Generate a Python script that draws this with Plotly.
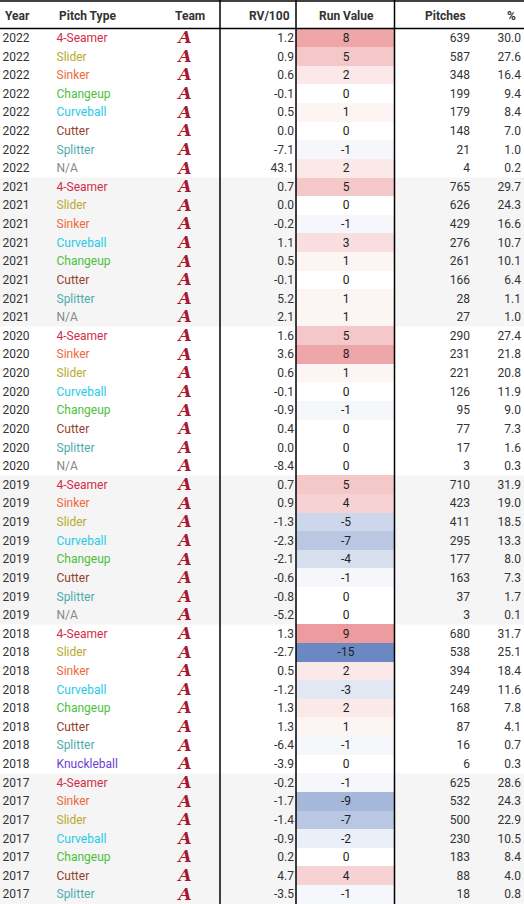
import plotly.graph_objects as go

# ---- data -----------------------------------------------------------------
years = (["2022"] * 8 + ["2021"] * 8 + ["2020"] * 8 + ["2019"] * 8
         + ["2018"] * 8 + ["2017"] * 7)

pitch_types = [
    "4-Seamer", "Slider", "Sinker", "Changeup", "Curveball", "Cutter", "Splitter", "N/A",
    "4-Seamer", "Slider", "Sinker", "Curveball", "Changeup", "Cutter", "Splitter", "N/A",
    "4-Seamer", "Sinker", "Slider", "Curveball", "Changeup", "Cutter", "Splitter", "N/A",
    "4-Seamer", "Sinker", "Slider", "Curveball", "Changeup", "Cutter", "Splitter", "N/A",
    "4-Seamer", "Slider", "Sinker", "Curveball", "Changeup", "Cutter", "Splitter", "Knuckleball",
    "4-Seamer", "Sinker", "Slider", "Curveball", "Changeup", "Cutter", "Splitter",
]

rv_per_100 = [
    1.2, 0.9, 0.6, -0.1, 0.5, 0.0, -7.1, 43.1,
    0.7, 0.0, -0.2, 1.1, 0.5, -0.1, 5.2, 2.1,
    1.6, 3.6, 0.6, -0.1, -0.9, 0.4, 0.0, -8.4,
    0.7, 0.9, -1.3, -2.3, -2.1, -0.6, -0.8, -5.2,
    1.3, -2.7, 0.5, -1.2, 1.3, 1.3, -6.4, -3.9,
    -0.2, -1.7, -1.4, -0.9, 0.2, 4.7, -3.5,
]

run_value = [
    8, 5, 2, 0, 1, 0, -1, 2,
    5, 0, -1, 3, 1, 0, 1, 1,
    5, 8, 1, 0, -1, 0, 0, 0,
    5, 4, -5, -7, -4, -1, 0, 0,
    9, -15, 2, -3, 2, 1, -1, 0,
    -1, -9, -7, -2, 0, 4, -1,
]

pitches = [
    639, 587, 348, 199, 179, 148, 21, 4,
    765, 626, 429, 276, 261, 166, 28, 27,
    290, 231, 221, 126, 95, 77, 17, 3,
    710, 423, 411, 295, 177, 163, 37, 3,
    680, 538, 394, 249, 168, 87, 16, 6,
    625, 532, 500, 230, 183, 88, 18,
]

pct = [
    30.0, 27.6, 16.4, 9.4, 8.4, 7.0, 1.0, 0.2,
    29.7, 24.3, 16.6, 10.7, 10.1, 6.4, 1.1, 1.0,
    27.4, 21.8, 20.8, 11.9, 9.0, 7.3, 1.6, 0.3,
    31.9, 19.0, 18.5, 13.3, 8.0, 7.3, 1.7, 0.1,
    31.7, 25.1, 18.4, 11.6, 7.8, 4.1, 0.7, 0.3,
    28.6, 24.3, 22.9, 10.5, 8.4, 4.0, 0.8,
]

headers = ["Year", "Pitch Type", "Team", "RV/100", "Run Value", "Pitches", "%"]

# ---- styling --------------------------------------------------------------
W, H = 524, 904
HEADER_H = 28.6
ROW_H = 18.62
TEXT_DY = 1.0  # text sits a touch below the cell middle
FONT = "Roboto"
TXT = "#333333"

PITCH_COLORS = {
    "4-Seamer": "#d22d49",
    "Slider": "#b8aa30",
    "Sinker": "#ee6a3c",
    "Changeup": "#4cbf3c",
    "Curveball": "#26cbe8",
    "Cutter": "#933f2c",
    "Splitter": "#4eacac",
    "N/A": "#888888",
    "Knuckleball": "#6a3fd0",
}

n = len(years)
row_top = [HEADER_H + i * ROW_H for i in range(n)]
row_mid = [t + ROW_H / 2 + TEXT_DY for t in row_top]
edges = [HEADER_H + i * ROW_H for i in range(n + 1)]

fig = go.Figure()

# alternating year-group backgrounds
shapes = []
year_order = list(dict.fromkeys(years))
for gi, yr in enumerate(year_order):
    idx = [i for i, y in enumerate(years) if y == yr]
    if gi % 2 == 1:
        shapes.append(dict(
            type="rect", xref="x", yref="y", layer="below",
            x0=0, x1=W, y0=row_top[idx[0]], y1=row_top[idx[-1]] + ROW_H,
            fillcolor="#f5f5f5", line=dict(width=0),
        ))

# run value heat cells
fig.add_trace(go.Heatmap(
    z=[[v] for v in run_value],
    x=[296, 394],
    y=edges,
    zmin=-15, zmax=15,
    colorscale=[[0.0, "rgb(106,136,194)"], [0.5, "rgb(255,255,255)"],
                [1.0, "rgb(223,88,93)"]],
    showscale=False,
    hoverinfo="skip",
))


def text_col(x, vals, pos, colors=TXT, size=12, family=FONT, **font_kw):
    fig.add_trace(go.Scatter(
        x=[x] * len(vals), y=row_mid,
        mode="text",
        text=vals,
        textposition=pos,
        textfont=dict(family=family, size=size, color=colors, **font_kw),
        hoverinfo="skip",
        showlegend=False,
    ))


text_col(2.5, years, "middle right")
text_col(56.5, pitch_types, "middle right",
         colors=[PITCH_COLORS[p] for p in pitch_types])
# stand-in for the team logo
text_col(185, ["A"] * n, "middle center", colors="#a6192e", size=17,
         family="DejaVu Serif, serif", weight="bold", style="italic")
text_col(294, [f"{v:.1f}" for v in rv_per_100], "middle left")
text_col(346, [str(v) for v in run_value], "middle center", colors="#222222")
text_col(470, [str(v) for v in pitches], "middle left")
text_col(521, [f"{v:.1f}" for v in pct], "middle left")

# header
hdr_x = [3, 57, 190, 292, 346, 468, 518]
hdr_anchor = ["left", "left", "center", "right", "center", "right", "right"]
annotations = []
for label, hx, anc in zip(headers, hdr_x, hdr_anchor):
    annotations.append(dict(
        x=hx, y=15.5, xref="x", yref="y", text=f"<b>{label}</b>",
        showarrow=False, xanchor=anc, yanchor="middle",
        font=dict(family=FONT, size=12, color=TXT),
    ))

# rules
for y0 in (1, HEADER_H):
    shapes.append(dict(type="line", xref="x", yref="y", x0=0, x1=W, y0=y0, y1=y0,
                       line=dict(color="black", width=1.5)))
for vx in (220, 296, 394.5):
    shapes.append(dict(type="line", xref="x", yref="y", x0=vx, x1=vx, y0=0, y1=H,
                       line=dict(color="black", width=1.5)))

fig.update_layout(
    width=W, height=H,
    margin=dict(l=0, r=0, t=0, b=0),
    paper_bgcolor="white",
    plot_bgcolor="white",
    xaxis=dict(range=[0, W], visible=False, fixedrange=True),
    yaxis=dict(range=[H, 0], visible=False, fixedrange=True),
    shapes=shapes,
    annotations=annotations,
    showlegend=False,
)

fig.write_html(
    "out.html",
    config={"displayModeBar": False},
    post_script="document.body.style.margin='0';document.body.style.overflow='hidden';",
)
